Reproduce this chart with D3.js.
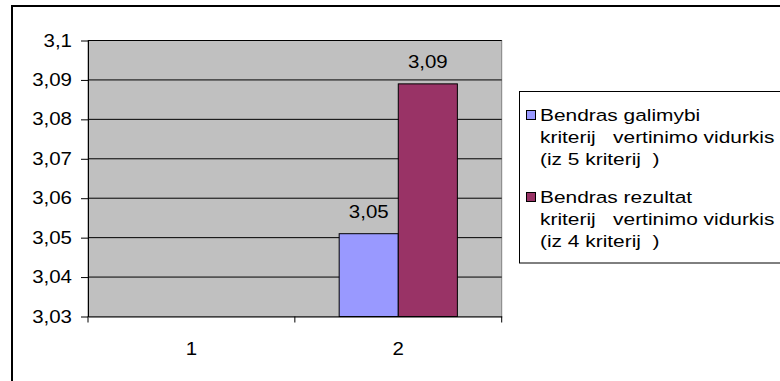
<!DOCTYPE html>
<html>
<head>
<meta charset="utf-8">
<script src="https://cdn.jsdelivr.net/npm/d3@7"></script>
<style>
  html, body { margin: 0; padding: 0; background: #fff; }
  svg { display: block; }
  text { font-family: "Liberation Sans", Arial, sans-serif; fill: #000; white-space: pre; }
</style>
</head>
<body>
<svg id="chart" width="780" height="381"></svg>
<script>
// Categories on the x axis
const categories = ["1", "2"];
// Average evaluation per category (no value for category 1)
const galimybiuVidurkis = [null, 3.051];
const rezultatuVidurkis = [null, 3.089];
// Y axis ticks
const yTicks = [3.03, 3.04, 3.05, 3.06, 3.07, 3.08, 3.09, 3.1];
// Legend entries, one array of lines each
const legendLines = [
  ["Bendras galimybi", "kriterij   vertinimo vidurkis", "(iz 5 kriterij  )"],
  ["Bendras rezultat", "kriterij   vertinimo vidurkis", "(iz 4 kriterij  )"]
];

const seriesValues = [galimybiuVidurkis, rezultatuVidurkis];
const seriesColors = ["#9999FF", "#993366"];

const svg = d3.select("#chart");
const locale = d3.formatLocale({ decimal: ",", thousands: " ", grouping: [3], currency: ["", ""] });
const fmtTick = locale.format(".3~r");
const fmtLabel = locale.format(".2f");

// Horizontal stretch of the lettering
const SX = 1.17;
const FS = 17.5;

const plot = { left: 88, right: 501.7, top: 40.5, bottom: 316.5 };

// Chart frame
svg.append("rect")
  .attr("x", 12).attr("y", 6).attr("width", 820).attr("height", 420)
  .attr("fill", "#fff").attr("stroke", "#000").attr("stroke-width", 2);

const x = d3.scaleBand().domain(categories).range([plot.left, plot.right]).padding(0);
const xs = d3.scaleBand().domain(d3.range(seriesValues.length)).range([0, x.bandwidth()])
  .paddingInner(0).paddingOuter(0.75);
const y = d3.scaleLinear().domain([3.03, 3.1]).range([plot.bottom, plot.top]);

// Plot area
svg.append("rect")
  .attr("x", plot.left).attr("y", plot.top)
  .attr("width", plot.right - plot.left).attr("height", plot.bottom - plot.top)
  .attr("fill", "#C0C0C0").attr("stroke", "#808080").attr("stroke-width", 1);

// Gridlines
svg.append("g").selectAll("line").data(yTicks.slice(1)).join("line")
  .attr("x1", plot.left).attr("x2", plot.right)
  .attr("y1", d => y(d)).attr("y2", d => y(d))
  .attr("stroke", "#000").attr("stroke-width", 1);

// Bars
const groups = svg.append("g").selectAll("g").data(categories).join("g")
  .attr("transform", c => `translate(${x(c)},0)`);
groups.each(function (c, ci) {
  const g = d3.select(this);
  seriesValues.forEach((vals, si) => {
    const v = vals[ci];
    if (v == null) return;
    g.append("rect")
      .attr("x", xs(si)).attr("y", y(v))
      .attr("width", xs.bandwidth()).attr("height", y(3.03) - y(v))
      .attr("fill", seriesColors[si]).attr("stroke", "#000").attr("stroke-width", 1);
    g.append("g")
      .attr("transform", `translate(${xs(si) + xs.bandwidth() / 2},${y(v) - 15.5}) scale(${SX},1)`)
      .append("text").attr("text-anchor", "middle").attr("font-size", FS)
      .text(fmtLabel(v));
  });
});

// Y axis
const yAxis = svg.append("g").attr("transform", `translate(${plot.left},0)`)
  .call(d3.axisLeft(y).tickValues(yTicks).tickFormat(fmtTick).tickSize(7).tickSizeOuter(0).tickPadding(9));
yAxis.select(".domain").attr("stroke", "#000");
yAxis.selectAll(".tick line").attr("stroke", "#000");
yAxis.selectAll(".tick text")
  .attr("font-family", null).attr("font-size", FS).attr("fill", "#000")
  .attr("transform", `scale(${SX},1)`).attr("x", -16 / SX);
yAxis.attr("font-family", null).attr("font-size", null);

// X axis
const xAxis = svg.append("g").attr("transform", `translate(0,${plot.bottom})`)
  .call(d3.axisBottom(x).tickSize(0).tickSizeOuter(0).tickPadding(0).tickFormat(""));
xAxis.select(".domain").attr("stroke", "#000");
const edges = categories.map(c => x(c)).concat([x(categories[categories.length - 1]) + x.bandwidth()]);
svg.append("g").selectAll("line").data(edges).join("line")
  .attr("x1", d => d).attr("x2", d => d)
  .attr("y1", plot.bottom).attr("y2", plot.bottom + 6)
  .attr("stroke", "#000");
svg.append("g").selectAll("g").data(categories).join("g")
  .attr("transform", c => `translate(${x(c) + x.bandwidth() / 2},${plot.bottom + 38}) scale(${SX},1)`)
  .append("text").attr("text-anchor", "middle").attr("font-size", FS)
  .text(c => c);

// Legend
const legend = svg.append("g");
legend.append("rect")
  .attr("x", 519.5).attr("y", 91.5).attr("width", 300).attr("height", 171.5)
  .attr("fill", "#fff").attr("stroke", "#000").attr("stroke-width", 1);
const LSX = 1.23, LFS = 17;
legendLines.forEach((lines, i) => {
  const top = 104 + i * 82;
  legend.append("rect")
    .attr("x", 526.5).attr("y", top + 6.5).attr("width", 9).attr("height", 9)
    .attr("fill", seriesColors[i]).attr("stroke", "#000").attr("stroke-width", 1);
  lines.forEach((ln, j) => {
    legend.append("g")
      .attr("transform", `translate(540,${top + 17 + j * 22}) scale(${LSX},1)`)
      .append("text").attr("font-size", LFS).text(ln);
  });
});
</script>
</body>
</html>
